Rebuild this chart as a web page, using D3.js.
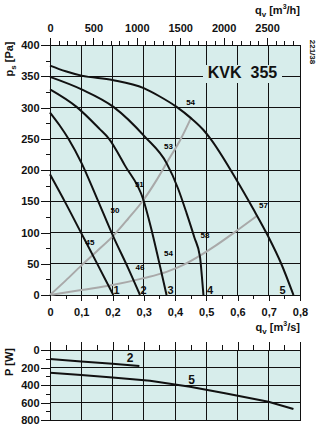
<!DOCTYPE html>
<html>
<head>
<meta charset="utf-8">
<script src="https://cdn.jsdelivr.net/npm/d3@7"></script>
<style>
  body { margin: 0; background: #fff; }
  svg text { font-family: "Liberation Sans", Arial, sans-serif; font-weight: bold; fill: #111; }
</style>
</head>
<body>
<svg id="chart" width="316" height="426"></svg>
<script>
// axis values
const qTicks = [0, 0.1, 0.2, 0.3, 0.4, 0.5, 0.6, 0.7, 0.8];
const qTickLabels = ["0", "0,1", "0,2", "0,3", "0,4", "0,5", "0,6", "0,7", "0,8"];
const psTicks = [0, 50, 100, 150, 200, 250, 300, 350, 400];
const flowHTicks = [0, 500, 1000, 1500, 2000, 2500];
const powerTicks = [0, 200, 400, 600, 800];

// fan curves [q m3/s, ps Pa]
const fanCurve1 = [[0, 193], [0.05, 147], [0.1, 99], [0.15, 51], [0.2026, 0]];
const fanCurve2 = [[0, 292], [0.03, 272], [0.059, 250], [0.101, 211], [0.15, 155], [0.203, 93], [0.25, 43], [0.288, 0]];
const fanCurve3 = [[0, 329], [0.085, 301], [0.16, 265], [0.187, 251], [0.24, 207], [0.299, 152], [0.322, 110], [0.348, 55], [0.373, 0]];
const fanCurve4 = [[0, 349], [0.101, 329], [0.203, 301], [0.304, 253], [0.373, 211], [0.41, 170], [0.437, 131], [0.462, 92], [0.48, 61], [0.486, 30], [0.491, 0]];
const fanCurve5 = [[0, 367], [0.05, 358], [0.101, 351], [0.2, 344], [0.3, 331], [0.35, 318], [0.405, 301], [0.451, 283], [0.491, 264], [0.512, 251], [0.597, 184], [0.65, 138], [0.699, 93], [0.74, 50], [0.779, 0]];
const fanNames = ["1", "2", "3", "4", "5"];
const fanLabelQ = [0.213, 0.299, 0.386, 0.512, 0.744];

// efficiency curves
const effSteep = [[0, 0], [0.05, 23], [0.1, 47], [0.15, 70], [0.203, 95], [0.25, 122], [0.299, 152], [0.34, 183], [0.373, 211], [0.421, 252], [0.451, 283]];
const effShallow = [[0, 0], [0.1, 8], [0.2, 16], [0.3, 27], [0.373, 37], [0.43, 49], [0.48, 63], [0.53, 79], [0.587, 99], [0.661, 126]];
const effLabels = ["45", "50", "51", "53", "54", "46", "54", "58", "57"];
const effLabelQ = [0.128, 0.208, 0.286, 0.379, 0.45, 0.288, 0.379, 0.496, 0.683];
const effLabelP = [85, 136, 178, 238, 309, 45, 67, 96, 144];

// power curves [q m3/s, P W]
const powerCurve2 = [[0, 103], [0.1, 131], [0.2, 158], [0.286, 183]];
const powerCurve5 = [[0, 259], [0.1, 285], [0.2, 313], [0.32, 351], [0.448, 419], [0.56, 495], [0.699, 591], [0.779, 674]];
const powerNames = ["2", "5"];
const powerLabelQ = [0.256, 0.453];
const powerLabelW = [137, 389];

const svg = d3.select('#chart');
const bg = '#d7edeb';

const x = d3.scaleLinear().domain([0, 0.8]).range([50, 300]);
const y = d3.scaleLinear().domain([0, 400]).range([295, 45]);
const xh = d3.scaleLinear().domain([0, 0.8 * 3600]).range([50, 300]);
const yw = d3.scaleLinear().domain([0, 800]).range([350, 420]);

function styleAxis(g){
    g.select('.domain').remove();
    g.selectAll('line').attr('stroke', '#111').attr('shape-rendering', 'crispEdges');
    g.selectAll('text').style('font-size', '11px').attr('fill', '#111');
}

function grid(g, xs, ys, top, bottom, yTicks){
    g.append('rect')
        .attr('x', xs(0)).attr('y', top)
        .attr('width', xs(0.8) - xs(0)).attr('height', bottom - top)
        .attr('fill', bg);
    g.selectAll('.vgrid').data(qTicks.slice(1, -1)).enter()
        .append('line')
        .attr('x1', d => xs(d)).attr('x2', d => xs(d))
        .attr('y1', top).attr('y2', bottom)
        .attr('stroke', '#111').attr('shape-rendering', 'crispEdges');
    g.selectAll('.hgrid').data(yTicks.slice(1, -1)).enter()
        .append('line')
        .attr('x1', xs(0)).attr('x2', xs(0.8))
        .attr('y1', d => ys(d)).attr('y2', d => ys(d))
        .attr('stroke', '#111').attr('shape-rendering', 'crispEdges');
}

// ---- main chart ----
const main = svg.append('g');
grid(main, x, y, y(400), y(0), psTicks);

// KVK 355 box hides the grid
main.append('rect')
    .attr('x', 203).attr('y', 65).attr('width', 79).attr('height', 18)
    .attr('fill', bg);
main.append('text')
    .attr('x', 242.5).attr('y', 77.5)
    .attr('text-anchor', 'middle')
    .style('font-size', '16px')
    .attr('xml:space', 'preserve')
    .text('KVK  355');

main.append('rect')
    .attr('x', x(0)).attr('y', y(400))
    .attr('width', x(0.8) - x(0)).attr('height', y(0) - y(400))
    .attr('fill', 'none').attr('stroke', '#111').attr('shape-rendering', 'crispEdges');

const line = d3.line().x(d => x(d[0])).y(d => y(d[1])).curve(d3.curveMonotoneX);

main.selectAll('.eff').data([effSteep, effShallow]).enter()
    .append('path')
    .attr('d', d => line(d))
    .attr('fill', 'none')
    .attr('stroke', '#a9a9a9')
    .attr('stroke-width', 2);

main.selectAll('.fan').data([fanCurve1, fanCurve2, fanCurve3, fanCurve4, fanCurve5]).enter()
    .append('path')
    .attr('d', d => line(d))
    .attr('fill', 'none')
    .attr('stroke', '#111')
    .attr('stroke-width', 2);

main.selectAll('.effLabel').data(effLabels).enter()
    .append('text')
    .attr('x', (d, i) => x(effLabelQ[i]))
    .attr('y', (d, i) => y(effLabelP[i]))
    .attr('dy', '0.35em')
    .attr('text-anchor', 'middle')
    .style('font-size', '8px')
    .style('fill', '#000')
    .text(d => d);

main.selectAll('.fanLabel').data(fanNames).enter()
    .append('text')
    .attr('x', (d, i) => x(fanLabelQ[i]))
    .attr('y', y(2))
    .attr('text-anchor', 'middle')
    .style('font-size', '11px')
    .text(d => d);

// axes
main.append('g').attr('transform', 'translate(50,0)')
    .call(d3.axisLeft(y).tickValues(d3.range(0, 401, 25)).tickSize(4).tickFormat(''))
    .call(styleAxis);
main.append('g').attr('transform', 'translate(50,0)')
    .call(d3.axisLeft(y).tickValues(psTicks).tickSize(9).tickPadding(1.5))
    .call(styleAxis);

main.append('g').attr('transform', 'translate(0,295)')
    .call(d3.axisBottom(x).tickValues(d3.range(0, 0.81, 0.05)).tickSize(4).tickFormat(''))
    .call(styleAxis);
main.append('g').attr('transform', 'translate(0,295)')
    .call(d3.axisBottom(x).tickValues(qTicks).tickSize(6).tickPadding(7).tickFormat((d, i) => qTickLabels[i]))
    .call(styleAxis);

main.append('g').attr('transform', 'translate(0,45)')
    .call(d3.axisTop(xh).tickValues(d3.range(0, 2801, 100)).tickSize(4).tickFormat(''))
    .call(styleAxis);
main.append('g').attr('transform', 'translate(0,45)')
    .call(d3.axisTop(xh).tickValues(flowHTicks).tickSize(7).tickPadding(6).tickFormat(d3.format('d')))
    .call(styleAxis);

// axis titles
const topTitle = svg.append('text').attr('x', 300).attr('y', 14).attr('text-anchor', 'end').style('font-size', '11px');
topTitle.append('tspan').text('q');
topTitle.append('tspan').attr('dy', 3).style('font-size', '8px').text('v');
topTitle.append('tspan').attr('dy', -3).text(' [m');
topTitle.append('tspan').attr('dy', -5).style('font-size', '7px').text('3');
topTitle.append('tspan').attr('dy', 5).text('/h]');

const botTitle = svg.append('text').attr('x', 300).attr('y', 331).attr('text-anchor', 'end').style('font-size', '11px');
botTitle.append('tspan').text('q');
botTitle.append('tspan').attr('dy', 3).style('font-size', '8px').text('v');
botTitle.append('tspan').attr('dy', -3).text(' [m');
botTitle.append('tspan').attr('dy', -5).style('font-size', '7px').text('3');
botTitle.append('tspan').attr('dy', 5).text('/s]');

const psTitle = svg.append('text').attr('transform', 'translate(12.5,59) rotate(-90)')
    .attr('text-anchor', 'middle').style('font-size', '11px');
psTitle.append('tspan').text('p');
psTitle.append('tspan').attr('dy', 3).style('font-size', '8px').text('s');
psTitle.append('tspan').attr('dy', -3).text(' [Pa]');

svg.append('text').attr('transform', 'translate(310,52) rotate(90)')
    .attr('text-anchor', 'middle').style('font-size', '8px')
    .text('221/38');

// ---- power chart ----
const pw = svg.append('g');
grid(pw, x, yw, yw(0), yw(800), powerTicks);
pw.append('rect')
    .attr('x', x(0)).attr('y', yw(0))
    .attr('width', x(0.8) - x(0)).attr('height', yw(800) - yw(0))
    .attr('fill', 'none').attr('stroke', '#111').attr('shape-rendering', 'crispEdges');

const pline = d3.line().x(d => x(d[0])).y(d => yw(d[1]));
pw.selectAll('.pcurve').data([powerCurve2, powerCurve5]).enter()
    .append('path')
    .attr('d', d => pline(d))
    .attr('fill', 'none')
    .attr('stroke', '#111')
    .attr('stroke-width', 2);

pw.selectAll('.pLabel').data(powerNames).enter()
    .append('text')
    .attr('x', (d, i) => x(powerLabelQ[i]))
    .attr('y', (d, i) => yw(powerLabelW[i]))
    .attr('text-anchor', 'middle')
    .style('font-size', '12px')
    .text(d => d);

pw.append('g').attr('transform', 'translate(50,0)')
    .call(d3.axisLeft(yw).tickValues(d3.range(0, 801, 100)).tickSize(4).tickFormat(''))
    .call(styleAxis);
pw.append('g').attr('transform', 'translate(50,0)')
    .call(d3.axisLeft(yw).tickValues(powerTicks).tickSize(9).tickPadding(1.5))
    .call(styleAxis);
pw.append('g').attr('transform', 'translate(0,350)')
    .call(d3.axisTop(x).tickValues(d3.range(0, 0.81, 0.05)).tickSize(5).tickFormat(''))
    .call(styleAxis);
pw.append('g').attr('transform', 'translate(0,350)')
    .call(d3.axisTop(x).tickValues(qTicks).tickSize(8).tickFormat(''))
    .call(styleAxis);

svg.append('text').attr('transform', 'translate(12.5,362) rotate(-90)')
    .attr('text-anchor', 'middle').style('font-size', '11px')
    .text('P [W]');
</script>
</body>
</html>
